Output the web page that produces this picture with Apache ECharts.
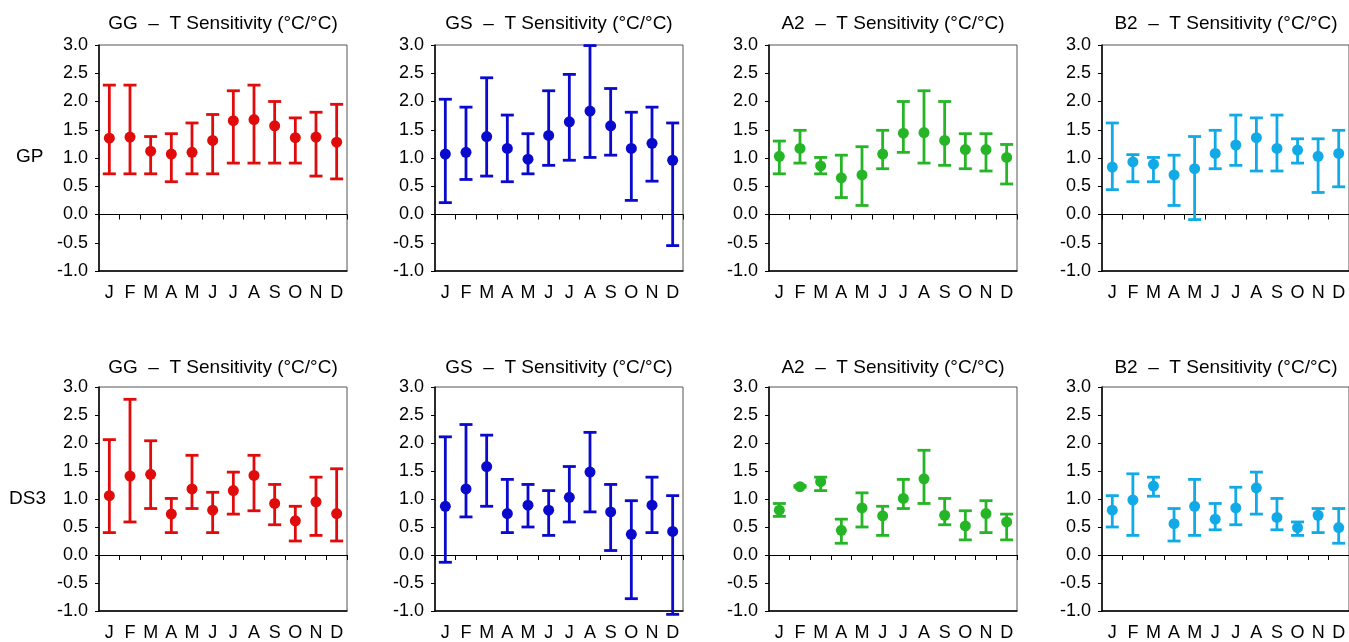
<!DOCTYPE html>
<html>
<head>
<meta charset="utf-8">
<script src="https://cdn.jsdelivr.net/npm/echarts@6/dist/echarts.min.js"></script>
<style>
html,body{margin:0;padding:0;background:#fff;}
#chart{width:1349px;height:642px;}
</style>
</head>
<body>
<div id="chart"></div>
<script>
// ---------- data ----------
const months = ['J','F','M','A','M','J','J','A','S','O','N','D'];
const yTicks = [-1.0,-0.5,0.0,0.5,1.0,1.5,2.0,2.5,3.0];
const rowLabels = ['GP','DS3'];
const panelTitles = ['GG  \u2013  T Sensitivity (\u00B0C/\u00B0C)','GS  \u2013  T Sensitivity (\u00B0C/\u00B0C)','A2  \u2013  T Sensitivity (\u00B0C/\u00B0C)','B2  \u2013  T Sensitivity (\u00B0C/\u00B0C)'];

// GP row
const gpGGMid = [1.35,1.37,1.12,1.07,1.10,1.31,1.66,1.68,1.57,1.36,1.37,1.28];
const gpGGLow = [0.72,0.72,0.72,0.58,0.72,0.72,0.91,0.91,0.91,0.91,0.68,0.63];
const gpGGHigh= [2.29,2.29,1.38,1.43,1.62,1.77,2.19,2.29,2.00,1.71,1.81,1.95];

const gpGSMid = [1.07,1.10,1.38,1.17,0.98,1.40,1.64,1.83,1.57,1.17,1.26,0.96];
const gpGSLow = [0.21,0.62,0.68,0.58,0.72,0.87,0.96,1.01,1.05,0.25,0.59,-0.55];
const gpGSHigh= [2.04,1.90,2.42,1.76,1.43,2.19,2.48,2.99,2.23,1.81,1.90,1.62];

const gpA2Mid = [1.03,1.17,0.86,0.65,0.70,1.07,1.44,1.45,1.31,1.15,1.15,1.01];
const gpA2Low = [0.72,0.91,0.72,0.30,0.16,0.81,1.10,0.91,0.87,0.81,0.77,0.54];
const gpA2High= [1.30,1.49,1.01,1.05,1.20,1.49,2.00,2.19,2.00,1.43,1.43,1.24];

const gpB2Mid = [0.84,0.93,0.89,0.70,0.81,1.08,1.23,1.36,1.17,1.14,1.03,1.08];
const gpB2Low = [0.44,0.58,0.58,0.16,-0.09,0.81,0.87,0.77,0.77,0.91,0.39,0.49];
const gpB2High= [1.62,1.06,1.01,1.05,1.38,1.49,1.76,1.71,1.76,1.34,1.34,1.49];

// DS3 row
const dsGGMid = [1.06,1.41,1.44,0.73,1.18,0.80,1.15,1.42,0.92,0.61,0.95,0.74];
const dsGGLow = [0.40,0.59,0.83,0.40,0.83,0.40,0.73,0.79,0.54,0.25,0.35,0.25];
const dsGGHigh= [2.06,2.78,2.04,1.01,1.78,1.12,1.48,1.78,1.26,0.87,1.39,1.54];

const dsGSMid = [0.87,1.18,1.58,0.74,0.89,0.80,1.03,1.48,0.77,0.37,0.89,0.42];
const dsGSLow = [-0.13,0.68,0.87,0.40,0.50,0.35,0.59,0.77,0.08,-0.78,0.40,-1.06];
const dsGSHigh= [2.11,2.33,2.14,1.35,1.26,1.15,1.58,2.19,1.26,0.97,1.39,1.06];

const dsA2Mid = [0.80,1.22,1.31,0.44,0.84,0.70,1.01,1.36,0.71,0.52,0.74,0.59];
const dsA2Low = [0.69,1.21,1.15,0.21,0.50,0.35,0.83,0.92,0.54,0.27,0.40,0.27];
const dsA2High= [0.92,1.24,1.39,0.64,1.11,0.87,1.35,1.87,1.01,0.79,0.97,0.73];

const dsB2Mid = [0.80,0.98,1.23,0.56,0.87,0.64,0.84,1.20,0.67,0.49,0.71,0.49];
const dsB2Low = [0.50,0.35,1.05,0.25,0.35,0.45,0.54,0.73,0.45,0.35,0.40,0.21];
const dsB2High= [1.06,1.45,1.39,0.83,1.35,0.92,1.21,1.48,1.01,0.59,0.83,0.83];

// ---------- layout / style ----------
const colors = ['#e00b0b','#0a0acc','#26b526','#12aae6'];
const panels = [
  {mid:gpGGMid, low:gpGGLow, high:gpGGHigh},
  {mid:gpGSMid, low:gpGSLow, high:gpGSHigh},
  {mid:gpA2Mid, low:gpA2Low, high:gpA2High},
  {mid:gpB2Mid, low:gpB2Low, high:gpB2High},
  {mid:dsGGMid, low:dsGGLow, high:dsGGHigh},
  {mid:dsGSMid, low:dsGSLow, high:dsGSHigh},
  {mid:dsA2Mid, low:dsA2Low, high:dsA2High},
  {mid:dsB2Mid, low:dsB2Low, high:dsB2High}
];
const colLeft = [99, 435, 769, 1102];
const panelW = 248;
const rowTop = [45, 387];
const panelH = [226, 225];
const titleY = [14, 358];

const FONT = 'Liberation Sans, Arial, sans-serif';

const grid = [], xAxis = [], yAxis = [], series = [], title = [], graphic = [];

panels.forEach((p, i) => {
  const r = Math.floor(i / 4), c = i % 4;
  const color = colors[c];
  grid.push({left: colLeft[c], top: rowTop[r], width: panelW, height: panelH[r],
    show: true, borderColor: '#555', borderWidth: 1, backgroundColor: 'transparent', containLabel: false});
  // bottom axis with labels
  xAxis.push({type: 'category', gridIndex: i, data: months, position: 'bottom', boundaryGap: true,
    axisLine: {onZero: false, lineStyle: {color: '#000', width: 1.5}},
    axisTick: {show: false},
    axisLabel: {color: '#000', fontSize: 18, fontFamily: FONT, margin: 13, interval: 0},
    splitLine: {show: false}});
  // zero line with ticks
  xAxis.push({type: 'category', gridIndex: i, data: months, position: 'bottom', boundaryGap: true,
    axisLine: {onZero: true, lineStyle: {color: '#000', width: 1.2}},
    axisTick: {show: true, inside: false, length: 5, lineStyle: {color: '#000', width: 1}, interval: 0},
    axisLabel: {show: false},
    splitLine: {show: false}});
  yAxis.push({type: 'value', gridIndex: i, min: -1, max: 3, interval: 0.5,
    axisLine: {show: true, lineStyle: {color: '#000', width: 1.5}},
    axisTick: {show: true, length: 4, lineStyle: {color: '#000'}},
    axisLabel: {color: '#000', fontSize: 18, fontFamily: FONT, margin: 11,
      formatter: v => v.toFixed(1)},
    splitLine: {show: false}});
  const barData = months.map((m, k) => [k, p.low[k], p.high[k]]);
  series.push({type: 'custom', xAxisIndex: 2 * i, yAxisIndex: i, clip: false,
    data: barData, z: 3,
    renderItem: function (params, api) {
      const x = api.value(0);
      const lo = api.coord([x, api.value(1)]);
      const hi = api.coord([x, api.value(2)]);
      const hw = 6.5;
      const st = {stroke: color, lineWidth: 2.8, fill: null};
      return {type: 'group', children: [
        {type: 'line', shape: {x1: lo[0], y1: lo[1], x2: hi[0], y2: hi[1]}, style: st},
        {type: 'line', shape: {x1: hi[0] - hw, y1: hi[1], x2: hi[0] + hw, y2: hi[1]}, style: st},
        {type: 'line', shape: {x1: lo[0] - hw, y1: lo[1], x2: lo[0] + hw, y2: lo[1]}, style: st}
      ]};
    }});
  series.push({type: 'scatter', xAxisIndex: 2 * i, yAxisIndex: i, z: 4,
    data: months.map((m, k) => [k, p.mid[k]]),
    symbol: 'circle', symbolSize: 11, itemStyle: {color: color, opacity: 1}});
  title.push({text: panelTitles[c], left: colLeft[c] + panelW / 2, top: titleY[r], textAlign: 'center',
    padding: 0, textStyle: {fontSize: 19, fontWeight: 'normal', color: '#000', fontFamily: FONT}});
});

graphic.push({type: 'text', left: 16, top: 147, style: {text: rowLabels[0], font: '19px ' + FONT, fill: '#000'}});
graphic.push({type: 'text', left: 9, top: 489, style: {text: rowLabels[1], font: '19px ' + FONT, fill: '#000'}});

const chart = echarts.init(document.getElementById('chart'), null, {renderer: 'canvas'});
chart.setOption({animation: false, backgroundColor: '#fff', title, grid, xAxis, yAxis, series, graphic});
</script>
</body>
</html>
